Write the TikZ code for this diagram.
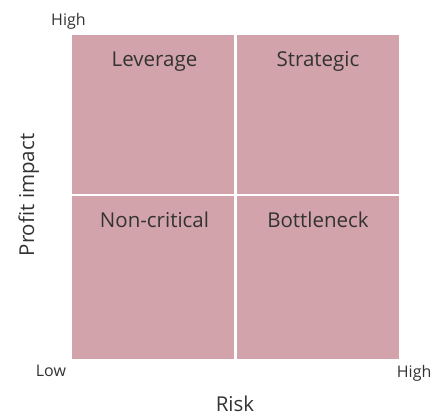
\documentclass[tikz,border=0pt]{standalone}
\usepackage{fontspec}
\setmainfont{Open Sans}
\definecolor{quad}{RGB}{211,163,171}
\definecolor{txt}{RGB}{51,51,51}
\begin{document}
\begin{tikzpicture}[x=1pt,y=1pt,
  quadbox/.style={fill=quad,draw=none},
  qlabel/.style={anchor=base,text=txt,font=\fontsize{20.5}{24}\selectfont,inner sep=0pt},
  axlabel/.style={text=txt,font=\fontsize{20.5}{24}\selectfont,inner sep=0pt},
  ticklabel/.style={text=txt,font=\fontsize{16}{19}\selectfont,inner sep=0pt,anchor=base west}]
\useasboundingbox (0,0) rectangle (446,416);
\fill[quad] (72,222.5) rectangle (233.5,381);
\fill[quad] (236.5,222.5) rectangle (399,381);
\fill[quad] (72,57.5) rectangle (233.5,220);
\fill[quad] (236.5,57.5) rectangle (399,220);
\node[qlabel] (lev) at (154.5,349.3) {Leverage};
\node[qlabel] (str) at (318,349.3) {Strategic};
\node[qlabel] (non) at (154.5,189) {Non-critical};
\node[qlabel] (bot) at (318,189) {Bottleneck};
\node[ticklabel] (hi1) at (51,390) {High};
\node[ticklabel] (lo) at (35.7,39.3) {Low};
\node[ticklabel] (hi2) at (396.7,38.5) {High};
\node[axlabel,anchor=base] (risk) at (235,5) {Risk};
\node[axlabel,anchor=base,rotate=90] (prof) at (34,221) {Profit impact};
\end{tikzpicture}
\end{document}
